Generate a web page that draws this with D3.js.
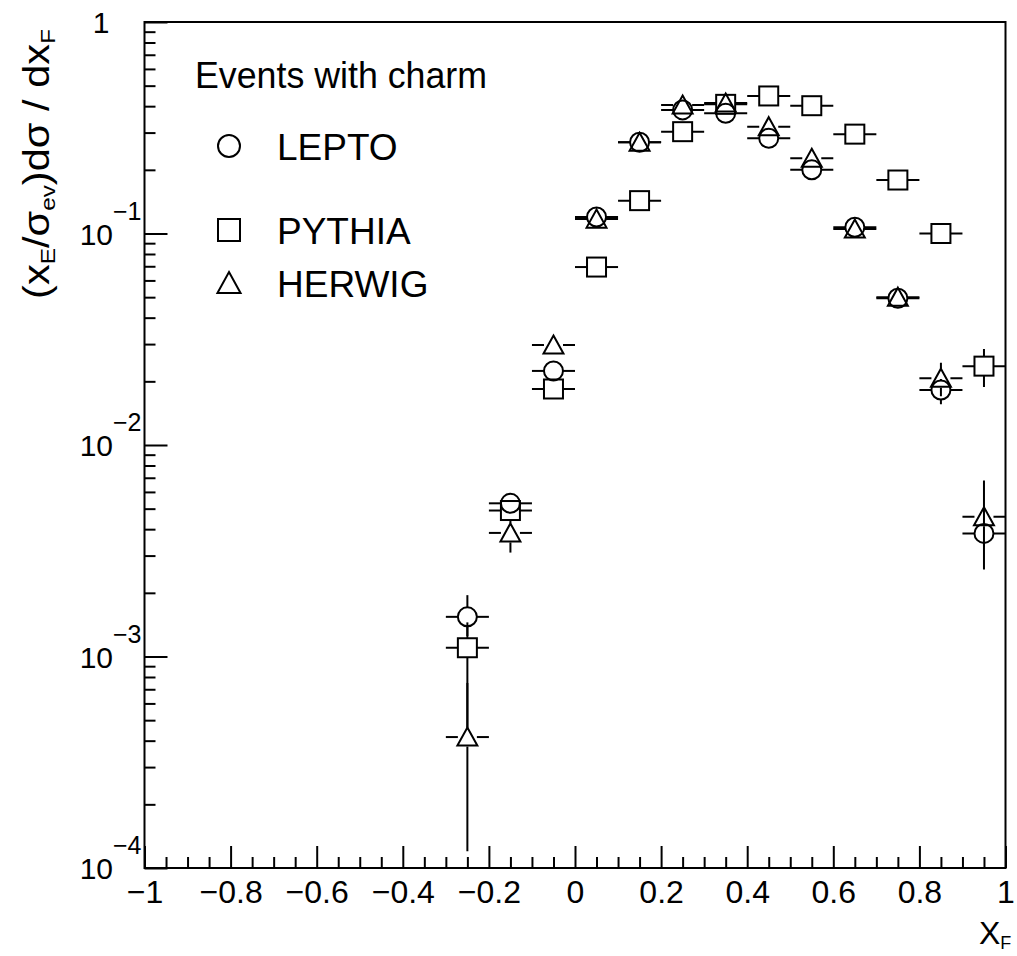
<!DOCTYPE html>
<html>
<head>
<meta charset="utf-8">
<script src="https://cdn.jsdelivr.net/npm/d3@7"></script>
<style>
  body { margin: 0; background: #fff; }
  svg { display: block; }
  text { font-family: "Liberation Sans", Arial, sans-serif; fill: #000; }
</style>
</head>
<body>
<svg id="chart" width="1017" height="956"></svg>
<script>
// x_F bin centres (bin width 0.1)
const xBins = [-0.25, -0.15, -0.05, 0.05, 0.15, 0.25, 0.35, 0.45, 0.55, 0.65, 0.75, 0.85, 0.95];
const binHalfWidth = 0.05;

// LEPTO
const leptoVal = [1.54e-3, 5.3e-3, 0.0224, 0.1197, 0.270, 0.384, 0.370, 0.282, 0.200, 0.107, 0.0494, 0.0182, 3.82e-3];
const leptoLo  = [1.25e-3, 5.0e-3, 0.0210, 0.1150, 0.262, 0.374, 0.360, 0.274, 0.194, 0.104, 0.0478, 0.0156, 2.58e-3];
const leptoHi  = [1.95e-3, 5.7e-3, 0.0240, 0.1245, 0.278, 0.394, 0.380, 0.290, 0.206, 0.110, 0.0510, 0.0205, 5.00e-3];

// PYTHIA
const pythiaVal = [1.10e-3, 4.9e-3, 0.0184, 0.0694, 0.143, 0.303, 0.408, 0.447, 0.402, 0.295, 0.179, 0.100, 0.0236];
const pythiaLo  = [4.6e-4,  4.6e-3, 0.0176, 0.0670, 0.139, 0.296, 0.400, 0.438, 0.394, 0.288, 0.174, 0.097, 0.0188];
const pythiaHi  = [1.45e-3, 5.2e-3, 0.0192, 0.0718, 0.147, 0.310, 0.416, 0.456, 0.410, 0.302, 0.184, 0.103, 0.0284];

// HERWIG
const herwigVal = [4.16e-4, 3.84e-3, 0.0297, 0.117, 0.270, 0.405, 0.414, 0.320, 0.227, 0.105, 0.0500, 0.0207, 4.58e-3];
const herwigLo  = [1.2e-4,  3.10e-3, 0.0285, 0.112, 0.262, 0.395, 0.404, 0.310, 0.220, 0.102, 0.0484, 0.0170, 3.30e-3];
const herwigHi  = [7.5e-4,  4.40e-3, 0.0310, 0.122, 0.278, 0.415, 0.424, 0.330, 0.234, 0.108, 0.0516, 0.0245, 6.80e-3];

const seriesNames = ["LEPTO", "PYTHIA", "HERWIG"];
const seriesSymbols = ["circle", "square", "triangle"];
const legendTitle = "Events with charm";

const xMajorTicks = [-1, -0.8, -0.6, -0.4, -0.2, 0, 0.2, 0.4, 0.6, 0.8, 1];
const xTickLabels = ["\u22121", "\u22120.8", "\u22120.6", "\u22120.4", "\u22120.2", "0", "0.2", "0.4", "0.6", "0.8", "1"];
const xMinorTicks = [-0.95,-0.9,-0.85,-0.75,-0.7,-0.65,-0.55,-0.5,-0.45,-0.35,-0.3,-0.25,-0.15,-0.1,-0.05,
                     0.05,0.1,0.15,0.25,0.3,0.35,0.45,0.5,0.55,0.65,0.7,0.75,0.85,0.9,0.95];
const yDecades = [1, 1e-1, 1e-2, 1e-3, 1e-4];
const yExponents = ["", "\u22121", "\u22122", "\u22123", "\u22124"];
const yMinorMantissas = [2, 3, 4, 5, 6, 7, 8, 9];

// ---- layout ----
const L = 144.5, R = 1005.5, T = 22, B = 868;
const svg = d3.select("#chart");

const x = d3.scaleLinear().domain([-1, 1]).range([L, R]);
const y = d3.scaleLog().domain([1e-4, 1]).range([B, T]);

// minor y ticks in every decade
const yMinorTicks = [];
[1e-4, 1e-3, 1e-2, 1e-1].forEach(d => yMinorMantissas.forEach(m => yMinorTicks.push(d * m)));

svg.append("defs").append("clipPath").attr("id", "plotArea")
  .append("rect").attr("x", L).attr("y", T).attr("width", R - L).attr("height", B - T);

// ---- axes (ticks pointing inwards) ----
function styleAxis(g) {
  g.select(".domain").remove();
  g.selectAll(".tick line").attr("stroke", "#000").attr("stroke-width", 2);
}

svg.append("g").attr("transform", `translate(0,${B})`)
  .call(d3.axisBottom(x).tickValues(xMinorTicks).tickSize(-11).tickFormat(""))
  .call(styleAxis);

svg.append("g").attr("transform", `translate(0,${B})`)
  .call(d3.axisBottom(x).tickValues(xMajorTicks).tickSize(-22).tickPadding(12)
        .tickFormat((d, i) => xTickLabels[i]))
  .call(styleAxis)
  .call(g => g.selectAll(".tick text").attr("font-size", 32)
               .attr("font-family", "'Liberation Sans', Arial, sans-serif"));

svg.append("g").attr("transform", `translate(${L},0)`)
  .call(d3.axisLeft(y).tickValues(yMinorTicks).tickSize(-11).tickFormat(""))
  .call(styleAxis);

svg.append("g").attr("transform", `translate(${L},0)`)
  .call(d3.axisLeft(y).tickValues(yDecades).tickSize(-23).tickFormat(""))
  .call(styleAxis);

// y tick labels as powers of ten
const yLab = svg.append("g");
yDecades.forEach((d, i) => {
  const yy = y(d);
  if (yExponents[i] === "") {
    yLab.append("text").attr("x", 101).attr("y", yy + 11)
      .attr("text-anchor", "middle").attr("font-size", 30).text("1");
  } else {
    yLab.append("text").attr("x", 113).attr("y", yy + 11)
      .attr("text-anchor", "end").attr("font-size", 30).text("10");
    yLab.append("text").attr("x", 113).attr("y", yy - 14)
      .attr("font-size", 25).text(yExponents[i]);
  }
});

// frame
svg.append("rect").attr("x", L).attr("y", T).attr("width", R - L).attr("height", B - T)
  .attr("fill", "none").attr("stroke", "#000").attr("stroke-width", 2);

// ---- axis titles ----
const yTitle = svg.append("text")
  .attr("transform", `translate(49,164) rotate(-90)`)
  .attr("text-anchor", "middle").attr("font-size", 36)
  .attr("textLength", 270).attr("lengthAdjust", "spacingAndGlyphs");
const parts = [
  ["(", 0], ["x", 0], ["E", 1], ["/", 0], ["\u03c3", 0], ["ev", 1], [")", 0],
  ["d\u03c3", 0], [" /", 0], [" d", 0], ["x", 0], ["F", 1]
];
let shifted = false;
parts.forEach(([t, sub]) => {
  const ts = yTitle.append("tspan").text(t);
  if (sub && !shifted) { ts.attr("dy", 6).attr("font-size", 21); shifted = true; }
  else if (sub) { ts.attr("font-size", 21); }
  else if (shifted) { ts.attr("dy", -6); shifted = false; }
});

const xTitle = svg.append("text").attr("x", 979).attr("y", 944).attr("font-size", 32);
xTitle.append("tspan").text("X");
xTitle.append("tspan").attr("dy", 5).attr("font-size", 18).text("F");

// ---- markers ----
function drawSymbol(g, kind, cx, cy, s) {
  const st = { fill: "none", stroke: "#000", "stroke-width": 2 };
  let el;
  if (kind === "circle") {
    el = g.append("circle").attr("cx", cx).attr("cy", cy).attr("r", s);
  } else if (kind === "square") {
    el = g.append("rect").attr("x", cx - s).attr("y", cy - s).attr("width", 2 * s).attr("height", 2 * s);
  } else {
    el = g.append("path").attr("d",
      `M${cx},${cy - s}L${cx + s * 1.05},${cy + s * 0.9}L${cx - s * 1.05},${cy + s * 0.9}Z`);
  }
  Object.entries(st).forEach(([k, v]) => el.attr(k, v));
}

const series = [
  { name: seriesNames[0], sym: seriesSymbols[0], val: leptoVal, lo: leptoLo, hi: leptoHi },
  { name: seriesNames[1], sym: seriesSymbols[1], val: pythiaVal, lo: pythiaLo, hi: pythiaHi },
  { name: seriesNames[2], sym: seriesSymbols[2], val: herwigVal, lo: herwigLo, hi: herwigHi }
];

const plot = svg.append("g").attr("clip-path", "url(#plotArea)");
const r = 9.5;
series.forEach(s => {
  const g = plot.append("g");
  xBins.forEach((xb, i) => {
    const cx = x(xb), cy = y(s.val[i]);
    const xl = x(xb - binHalfWidth), xr = x(xb + binHalfWidth);
    const seg = (x1, y1, x2, y2) => g.append("line")
      .attr("x1", x1).attr("y1", y1).attr("x2", x2).attr("y2", y2)
      .attr("stroke", "#000").attr("stroke-width", 2);
    seg(xl, cy, cx - r, cy);
    seg(cx + r, cy, xr, cy);
    const yh = y(s.hi[i]), yl = y(s.lo[i]);
    if (yh < cy - r) seg(cx, yh, cx, cy - r);
    if (yl > cy + r) seg(cx, cy + r, cx, yl);
    drawSymbol(g, s.sym, cx, cy, r);
  });
});

// ---- legend ----
const leg = svg.append("g");
leg.append("text").attr("x", 195).attr("y", 88).attr("font-size", 36)
  .attr("textLength", 292).attr("lengthAdjust", "spacingAndGlyphs").text(legendTitle);
const legY = [146, 230, 283];
series.forEach((s, i) => {
  drawSymbol(leg, s.sym, 229, legY[i], 11);
  leg.append("text").attr("x", 277).attr("y", legY[i] + 14).attr("font-size", 37).text(s.name);
});
</script>
</body>
</html>
